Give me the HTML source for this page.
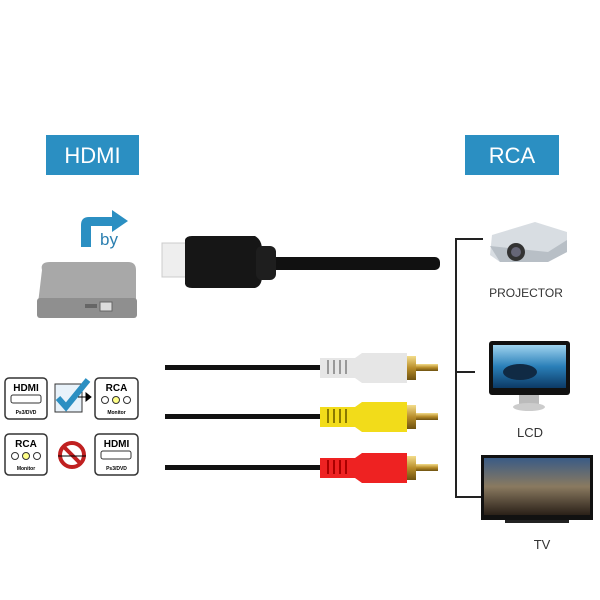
<!DOCTYPE html>
<html><head><style>
body{margin:0;background:#fff;}
svg{display:block;font-family:"Liberation Sans",sans-serif;}
</style></head><body>
<svg width="600" height="600" viewBox="0 0 600 600" xmlns="http://www.w3.org/2000/svg">
<defs>
<linearGradient id="lcd" x1="0" y1="0" x2="0" y2="1"><stop offset="0" stop-color="#9fd4ef"/><stop offset="0.5" stop-color="#2a7fb8"/><stop offset="1" stop-color="#0c3a66"/></linearGradient>
<linearGradient id="tv" x1="0" y1="0" x2="0" y2="1"><stop offset="0" stop-color="#3a5b86"/><stop offset="0.5" stop-color="#8a7a60"/><stop offset="1" stop-color="#2a2018"/></linearGradient>
<linearGradient id="gold" x1="0" y1="0" x2="0" y2="1"><stop offset="0" stop-color="#f3dc8a"/><stop offset="0.5" stop-color="#b88d2a"/><stop offset="1" stop-color="#6e5210"/></linearGradient>
</defs>
<!-- Header boxes -->
<rect x="46" y="135" width="93" height="40" fill="#2b8fc2"/>
<text x="92.5" y="163" font-size="22" fill="#fff" text-anchor="middle">HDMI</text>
<rect x="465" y="135" width="94" height="40" fill="#2b8fc2"/>
<text x="512" y="163" font-size="22" fill="#fff" text-anchor="middle">RCA</text>
<!-- bent arrow -->
<path d="M81 247 V225 Q81 217 89 217 H112 V210 L128 221 L112 232 V226 H91 V247 Z" fill="#2b8fc2"/>
<text x="100" y="245" font-size="17" fill="#2b7fb0">by</text>
<!-- device box -->
<path d="M42 270 Q40 262 50 262 H128 Q136 262 136 270 V312 Q136 318 130 318 H44 Q37 318 37 312 Z" fill="#a8a8a8"/>
<rect x="37" y="298" width="100" height="20" rx="3" fill="#8f8f8f"/>
<rect x="100" y="302" width="12" height="9" fill="#ddd" stroke="#666"/>
<rect x="85" y="304" width="12" height="4" fill="#666"/>
<!-- HDMI plug -->
<rect x="262" y="257" width="178" height="13" rx="5" fill="#111"/>
<rect x="162" y="243" width="24" height="34" fill="#eeeeee" stroke="#ccc"/>
<path d="M185 240 Q186 236 192 236 H255 Q262 240 262 250 V276 Q262 286 255 288 H192 Q186 288 185 284 Z" fill="#161616"/>
<rect x="256" y="246" width="20" height="34" rx="6" fill="#1e1e1e"/>
<!-- RCA cables -->
<g>
<rect x="165" y="365" width="160" height="5" fill="#111"/>
<rect x="165" y="414" width="160" height="5" fill="#111"/>
<rect x="165" y="465" width="160" height="5" fill="#111"/>
</g>
<g id="w">
<path d="M320 358 H355 L362 353 H407 V383 H362 L355 378 H320 Z" fill="#e6e6e6"/>
<g fill="#999"><rect x="327" y="360" width="2" height="14"/><rect x="333" y="360" width="2" height="14"/><rect x="339" y="360" width="2" height="14"/><rect x="345" y="360" width="2" height="14"/></g>
<rect x="407" y="356" width="9" height="24" fill="url(#gold)"/>
<rect x="416" y="364" width="22" height="7" fill="url(#gold)"/>
</g>
<g>
<path d="M320 407 H355 L362 402 H407 V432 H362 L355 427 H320 Z" fill="#f2dc1a"/>
<g fill="#8a7a00"><rect x="327" y="409" width="2" height="14"/><rect x="333" y="409" width="2" height="14"/><rect x="339" y="409" width="2" height="14"/><rect x="345" y="409" width="2" height="14"/></g>
<rect x="407" y="405" width="9" height="24" fill="url(#gold)"/>
<rect x="416" y="413" width="22" height="7" fill="url(#gold)"/>
</g>
<g>
<path d="M320 458 H355 L362 453 H407 V483 H362 L355 478 H320 Z" fill="#ee2222"/>
<g fill="#a00"><rect x="327" y="460" width="2" height="14"/><rect x="333" y="460" width="2" height="14"/><rect x="339" y="460" width="2" height="14"/><rect x="345" y="460" width="2" height="14"/></g>
<rect x="407" y="456" width="9" height="24" fill="url(#gold)"/>
<rect x="416" y="464" width="22" height="7" fill="url(#gold)"/>
</g>
<!-- bracket -->
<path d="M483 239 H456 V497 H483 M456 372 H475" stroke="#222" stroke-width="2" fill="none"/>
<!-- projector -->
<path d="M492 235 L535 222 L567 232 V252 L548 262 H500 L490 255 Z" fill="#d8dde2"/>
<path d="M490 246 L548 252 L567 240 V252 L548 262 H500 Z" fill="#b8bfc6"/>
<circle cx="516" cy="252" r="9" fill="#333"/><circle cx="516" cy="252" r="5" fill="#667"/>
<text x="526" y="297" font-size="12" fill="#333" text-anchor="middle">PROJECTOR</text>
<!-- LCD -->
<rect x="489" y="341" width="81" height="54" rx="3" fill="#111"/>
<rect x="493" y="345" width="73" height="43" fill="url(#lcd)"/>
<ellipse cx="520" cy="372" rx="17" ry="8" fill="#102a44"/>
<rect x="519" y="395" width="20" height="10" fill="#bbb"/>
<ellipse cx="529" cy="407" rx="16" ry="4" fill="#ccc"/>
<text x="530" y="437" font-size="13" fill="#333" text-anchor="middle">LCD</text>
<!-- TV -->
<rect x="481" y="455" width="112" height="65" fill="#111"/>
<rect x="484" y="458" width="106" height="57" fill="url(#tv)"/>
<rect x="505" y="520" width="64" height="3" fill="#222"/>
<text x="542" y="549" font-size="13" fill="#333" text-anchor="middle">TV</text>
<!-- compat icons -->
<g font-weight="bold" text-anchor="middle">
<rect x="5" y="378" width="42" height="41" rx="4" fill="#fff" stroke="#333" stroke-width="1.5"/>
<text x="26" y="391" font-size="10">HDMI</text>
<rect x="11" y="395" width="30" height="8" rx="2" fill="#fff" stroke="#333"/>
<text x="26" y="414" font-size="5">Ps3/DVD</text>
<rect x="55" y="384" width="27" height="28" fill="#e8f2fa" stroke="#333"/>
<path d="M58 398 L66 407 L88 380" stroke="#2b8fc2" stroke-width="6" fill="none"/>
<path d="M78 397 h8 M86 393 l5 4 -5 4z" stroke="#000" fill="#000"/>
<rect x="95" y="378" width="43" height="41" rx="4" fill="#fff" stroke="#333" stroke-width="1.5"/>
<text x="116.5" y="391" font-size="10">RCA</text>
<circle cx="105" cy="400" r="3.5" fill="#fff" stroke="#333"/><circle cx="116" cy="400" r="3.5" fill="#ff8" stroke="#333"/><circle cx="127" cy="400" r="3.5" fill="#fff" stroke="#333"/>
<text x="116.5" y="414" font-size="5">Monitor</text>
<rect x="5" y="434" width="42" height="41" rx="4" fill="#fff" stroke="#333" stroke-width="1.5"/>
<text x="26" y="447" font-size="10">RCA</text>
<circle cx="15" cy="456" r="3.5" fill="#fff" stroke="#333"/><circle cx="26" cy="456" r="3.5" fill="#ff8" stroke="#333"/><circle cx="37" cy="456" r="3.5" fill="#fff" stroke="#333"/>
<text x="26" y="470" font-size="5">Monitor</text>
<circle cx="72" cy="455" r="12" fill="#fff" stroke="#c02020" stroke-width="4"/>
<path d="M64 447 L80 463" stroke="#c02020" stroke-width="4"/>
<path d="M58 456 h28" stroke="#000"/>
<rect x="95" y="434" width="43" height="41" rx="4" fill="#fff" stroke="#333" stroke-width="1.5"/>
<text x="116.5" y="447" font-size="10">HDMI</text>
<rect x="101" y="451" width="30" height="8" rx="2" fill="#fff" stroke="#333"/>
<text x="116.5" y="470" font-size="5">Ps3/DVD</text>
</g>
</svg>
</body></html>
